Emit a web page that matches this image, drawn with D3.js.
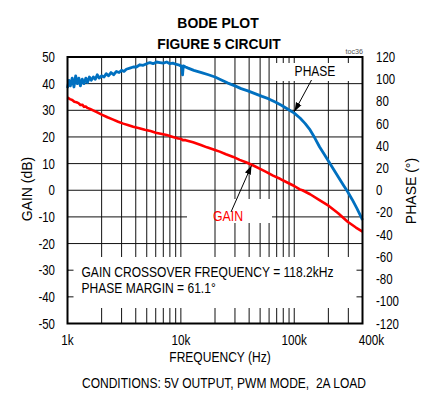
<!DOCTYPE html>
<html>
<head>
<meta charset="utf-8">
<script src="https://cdn.jsdelivr.net/npm/d3@7"></script>
<style>
  body { margin: 0; background: #fff; }
  svg { display: block; }
  text { font-family: "Liberation Sans", Arial, sans-serif; fill: #000; }
</style>
</head>
<body>
<div id="chart"></div>
<script>
// gain curve: frequency (Hz) / gain (dB)
let gainFreq = [1000, 1050, 1100, 1150, 1200, 1250, 1300, 1350, 1400, 1450, 1500, 1600, 1700, 1850,
  2000, 2250, 2500, 2800, 3100, 3400, 3800, 4300, 4800, 5400, 6000, 6800, 7500, 8500, 9500,
  10000, 10400, 11000, 12800, 15000, 17000, 20000, 22000, 25000, 29000, 33000, 38000, 44000,
  50000, 57000, 65000, 75000, 85000, 100000, 112000, 118200, 138000, 167000, 202000, 244000,
  296000, 350000, 400000];
let gainDb = [34.8, 34.2, 33.9, 33.2, 33.0, 32.7, 32.0, 32.1, 31.3, 31.4, 30.9, 30.4, 29.9, 29.1,
  28.4, 27.4, 26.6, 25.7, 25.0, 24.5, 23.8, 23.3, 22.7, 22.2, 21.6, 21.1, 20.7, 20.0, 19.4,
  19.3, 18.8, 18.8, 18.0, 17.0, 16.1, 15.1, 14.5, 13.5, 12.5, 11.4, 10.4, 9.2,
  8.0, 6.8, 5.5, 4.3, 3.1, 1.6, 0.3, 0, -1.5, -3.7, -5.9, -8.6,
  -11.8, -14.0, -15.5];

// phase curve: frequency (Hz) / phase (deg)
let phaseFreq = [1000, 1030, 1060, 1100, 1140, 1180, 1220, 1260, 1300, 1350, 1400, 1450, 1500,
  1560, 1620, 1690, 1760, 1830, 1900, 2000, 2100, 2200, 2300, 2420, 2550, 2700, 2850, 3000,
  3150, 3300, 3550, 3800, 4050, 4350, 4650, 5000, 5330, 5700, 6100, 6530,
  7000, 7500, 8000, 8500, 9000, 9500, 10000, 10200, 10350, 10500, 11000, 11600, 13000, 15200,
  17500, 20000, 23000, 26000, 30000, 34000, 39000, 45000, 52000, 59000, 68000, 77000, 88000,
  100000, 113000, 125000, 138000, 152000, 167000, 185000, 202000, 222000, 244000, 270000,
  296000, 325000, 357000, 380000, 400000];
let phaseDeg = [92, 99, 94, 101, 93, 103, 96, 101, 94, 100, 96, 101, 97,
  102, 99, 102, 100, 104, 101, 103, 102, 105, 103, 106, 104, 107, 106, 108,
  107, 109, 110, 111, 111, 113, 112.5, 114, 115, 114, 115.5, 115,
  114.5, 115.5, 114, 114.5, 113.5, 113, 112, 110, 104, 112, 111, 110, 108, 106,
  104, 102, 99, 96.5, 94, 91.5, 89.5, 87, 84.5, 82.5, 79.5, 76.5, 73,
  69.5, 64.8, 60, 54.3, 47, 39.2, 32, 25.7, 19, 12.2, 5,
  -1.3, -8.5, -16.3, -22, -26.8];

let gainTicks = [50, 40, 30, 20, 10, 0, -10, -20, -30, -40, -50];
let phaseTicks = [120, 100, 80, 60, 40, 20, 0, -20, -40, -60, -80, -100, -120];
let freqTicks = [1000, 10000, 100000, 400000];
let freqLabels = ["1k", "10k", "100k", "400k"];
let freqGrid = [2000, 3000, 4000, 5000, 6000, 7000, 8000, 9000, 10000,
  20000, 30000, 40000, 50000, 60000, 70000, 80000, 90000, 100000, 200000, 300000];

let width = 425, height = 402;
let plotLeft = 67.5, plotRight = 362.5, plotTop = 57, plotBottom = 323.5;

let svg = d3.select("#chart").append("svg")
  .attr("width", width)
  .attr("height", height);

let x = d3.scaleLog().domain([1000, 400000]).range([plotLeft, plotRight]);
let yGain = d3.scaleLinear().domain([-50, 50]).range([plotBottom, plotTop]);
let yPhase = d3.scaleLinear().domain([-120, 120]).range([plotBottom, plotTop]);

// narrow text: no Arial Narrow here, so squeeze Liberation Sans horizontally
function label(px, py, str, size, anchor, sx) {
  return svg.append("text")
    .attr("transform", "translate(" + px + "," + py + ") scale(" + sx + ",1)")
    .attr("text-anchor", anchor)
    .attr("font-size", size)
    .text(str);
}

// horizontal grid
let grid = svg.append("g").attr("stroke", "#111").attr("stroke-width", 1);
grid.selectAll("line.h")
  .data(gainTicks.slice(1, -1))
  .enter().append("line")
  .attr("class", "h")
  .attr("x1", plotLeft).attr("x2", plotRight)
  .attr("y1", d => yGain(d)).attr("y2", d => yGain(d));

// the -10 line is broken behind the GAIN label
svg.append("rect").attr("x", 187).attr("y", 213).attr("width", 85).attr("height", 9).attr("fill", "#fff");

// vertical grid
let vgrid = svg.append("g").attr("stroke", "#111").attr("stroke-width", 1);
vgrid.selectAll("line")
  .data(freqGrid)
  .enter().append("line")
  .attr("x1", d => x(d)).attr("x2", d => x(d))
  .attr("y1", plotTop).attr("y2", plotBottom);

// white boxes behind labels
svg.append("rect").attr("x", 222).attr("y", 199).attr("width", 50).attr("height", 24).attr("fill", "#fff");
svg.append("rect").attr("x", 273).attr("y", 63).attr("width", 84).attr("height", 18).attr("fill", "#fff");
svg.append("rect").attr("x", plotLeft + 1).attr("y", 257).attr("width", plotRight - plotLeft - 2).attr("height", 51).attr("fill", "#fff");

// short stubs of the gain grid at the box edges
[-30, -40].forEach(function(v) {
  svg.append("line").attr("x1", plotLeft).attr("x2", plotLeft + 6)
    .attr("y1", yGain(v)).attr("y2", yGain(v)).attr("stroke", "#111");
  svg.append("line").attr("x1", plotRight - 6).attr("x2", plotRight)
    .attr("y1", yGain(v)).attr("y2", yGain(v)).attr("stroke", "#111");
});

// curves
let gainLine = d3.line()
  .x((d, i) => x(gainFreq[i]))
  .y(d => yGain(d));
let phaseLine = d3.line()
  .x((d, i) => x(phaseFreq[i]))
  .y(d => yPhase(d));

svg.append("path")
  .attr("d", phaseLine(phaseDeg))
  .attr("fill", "none")
  .attr("stroke", "#0070c0")
  .attr("stroke-width", 2.8)
  .attr("stroke-linejoin", "round");

svg.append("path")
  .attr("d", gainLine(gainDb))
  .attr("fill", "none")
  .attr("stroke", "#ff0000")
  .attr("stroke-width", 2.6)
  .attr("stroke-linejoin", "round");

// border
svg.append("rect")
  .attr("x", plotLeft).attr("y", plotTop)
  .attr("width", plotRight - plotLeft).attr("height", plotBottom - plotTop)
  .attr("fill", "none").attr("stroke", "#000").attr("stroke-width", 2);

// arrows
svg.append("defs").append("marker")
  .attr("id", "arrow")
  .attr("viewBox", "0 0 10 10")
  .attr("refX", 10).attr("refY", 5)
  .attr("markerWidth", 9).attr("markerHeight", 9)
  .attr("markerUnits", "userSpaceOnUse")
  .attr("orient", "auto")
  .append("path")
  .attr("d", "M0,1.5 L10,5 L0,8.5 Z")
  .attr("fill", "#000");

svg.append("line")
  .attr("x1", 311.5).attr("y1", 80).attr("x2", 294.5).attr("y2", 111.5)
  .attr("stroke", "#000").attr("stroke-width", 1)
  .attr("marker-end", "url(#arrow)");
svg.append("line")
  .attr("x1", 231).attr("y1", 212).attr("x2", 251.5).attr("y2", 165.5)
  .attr("stroke", "#000").attr("stroke-width", 1)
  .attr("marker-end", "url(#arrow)");

// tick labels
svg.append("g").selectAll("text")
  .data(gainTicks)
  .enter().append("text")
  .attr("transform", d => "translate(55," + yGain(d) + ") scale(0.82,1)")
  .attr("dy", "0.36em")
  .attr("text-anchor", "end")
  .attr("font-size", 14)
  .text(d => d);

svg.append("g").selectAll("text")
  .data(phaseTicks)
  .enter().append("text")
  .attr("transform", d => "translate(376," + yPhase(d) + ") scale(0.82,1)")
  .attr("dy", "0.36em")
  .attr("font-size", 14)
  .text(d => d);

svg.append("g").selectAll("text")
  .data(freqTicks)
  .enter().append("text")
  .attr("transform", (d, i) => "translate(" + (x(d) + (i === 3 ? 9 : 0)) + ",345) scale(0.84,1)")
  .attr("text-anchor", "middle")
  .attr("font-size", 14)
  .text((d, i) => freqLabels[i]);

// titles
label(218, 27.5, "BODE PLOT", 15.5, "middle", 0.9).attr("font-weight", "bold");
label(219, 48.5, "FIGURE 5 CIRCUIT", 15.5, "middle", 0.89).attr("font-weight", "bold");
label(363, 53.5, "toc36", 8, "end", 0.9).style("fill", "#555");

label(220, 362, "FREQUENCY (Hz)", 14, "middle", 0.86);
label(224, 388, "CONDITIONS: 5V OUTPUT, PWM MODE,  2A LOAD", 14, "middle", 0.86)
  .attr("xml:space", "preserve");

svg.append("text")
  .attr("transform", "translate(32,189) rotate(-90)")
  .attr("text-anchor", "middle").attr("font-size", 14).text("GAIN (dB)");
svg.append("text")
  .attr("transform", "translate(416,191) rotate(-90)")
  .attr("text-anchor", "middle").attr("font-size", 14).text("PHASE (°)");

// curve labels
label(315, 75.5, "PHASE", 14, "middle", 0.86);
label(228, 221, "GAIN", 14, "middle", 0.88).style("fill", "#ff0000");

// annotation
label(81.5, 277, "GAIN CROSSOVER FREQUENCY = 118.2kHz", 14, "start", 0.86);
label(81.5, 292.5, "PHASE MARGIN = 61.1°", 14, "start", 0.86);
</script>
</body>
</html>
